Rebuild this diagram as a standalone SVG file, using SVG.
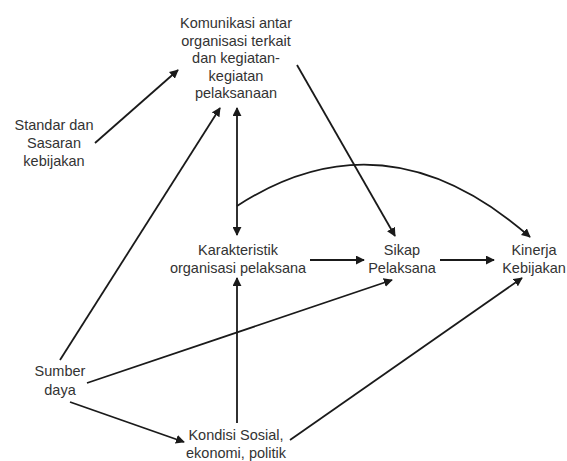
<svg xmlns="http://www.w3.org/2000/svg" width="567" height="461" viewBox="0 0 567 461">
<defs>
<marker id="ah" viewBox="0 0 10 10" refX="9" refY="5" markerWidth="9" markerHeight="9" markerUnits="userSpaceOnUse" orient="auto-start-reverse">
<path d="M0,0 L10,5 L0,10 z" fill="#1a1a1a"/>
</marker>
<style>
text{font-family:"Liberation Sans",Arial,sans-serif;font-size:14.5px;fill:#333;text-anchor:middle}
.c{stroke:#1a1a1a;stroke-width:1.8;fill:none}
</style>
</defs>
<rect width="567" height="461" fill="#fff"/>
<g id="komunikasi">
<text x="236" y="28">Komunikasi antar</text>
<text x="236" y="46">organisasi terkait</text>
<text x="236" y="63">dan kegiatan-</text>
<text x="236" y="81">kegiatan</text>
<text x="236" y="98">pelaksanaan</text>
</g>
<g id="standar">
<text x="54" y="130">Standar dan</text>
<text x="54" y="148">Sasaran</text>
<text x="54" y="166">kebijakan</text>
</g>
<g id="karakteristik">
<text x="238" y="255">Karakteristik</text>
<text x="238" y="273">organisasi pelaksana</text>
</g>
<g id="sikap">
<text x="402" y="255">Sikap</text>
<text x="402" y="273">Pelaksana</text>
</g>
<g id="kinerja">
<text x="534" y="255">Kinerja</text>
<text x="534" y="273">Kebijakan</text>
</g>
<g id="sumber">
<text x="60" y="376">Sumber</text>
<text x="60" y="395">daya</text>
</g>
<g id="kondisi">
<text x="236" y="440">Kondisi Sosial,</text>
<text x="236" y="458">ekonomi, politik</text>
</g>
<g id="connectors">
<line class="c" x1="95" y1="143" x2="178" y2="70" marker-end="url(#ah)"/>
<line class="c" x1="60" y1="360" x2="220" y2="108" marker-end="url(#ah)"/>
<line class="c" x1="237" y1="108" x2="237" y2="235" marker-start="url(#ah)" marker-end="url(#ah)"/>
<path class="c" d="M237,206 Q385,110 530,237" marker-end="url(#ah)"/>
<line class="c" x1="297" y1="65" x2="395" y2="236" marker-end="url(#ah)"/>
<line class="c" x1="310" y1="260" x2="364" y2="260" marker-end="url(#ah)"/>
<line class="c" x1="440" y1="260" x2="494" y2="260" marker-end="url(#ah)"/>
<line class="c" x1="237" y1="423" x2="237" y2="278" marker-end="url(#ah)"/>
<line class="c" x1="87" y1="383" x2="392" y2="280" marker-end="url(#ah)"/>
<line class="c" x1="290" y1="440" x2="522" y2="278" marker-end="url(#ah)"/>
<line class="c" x1="70" y1="402" x2="184" y2="442" marker-end="url(#ah)"/>
</g>
</svg>
